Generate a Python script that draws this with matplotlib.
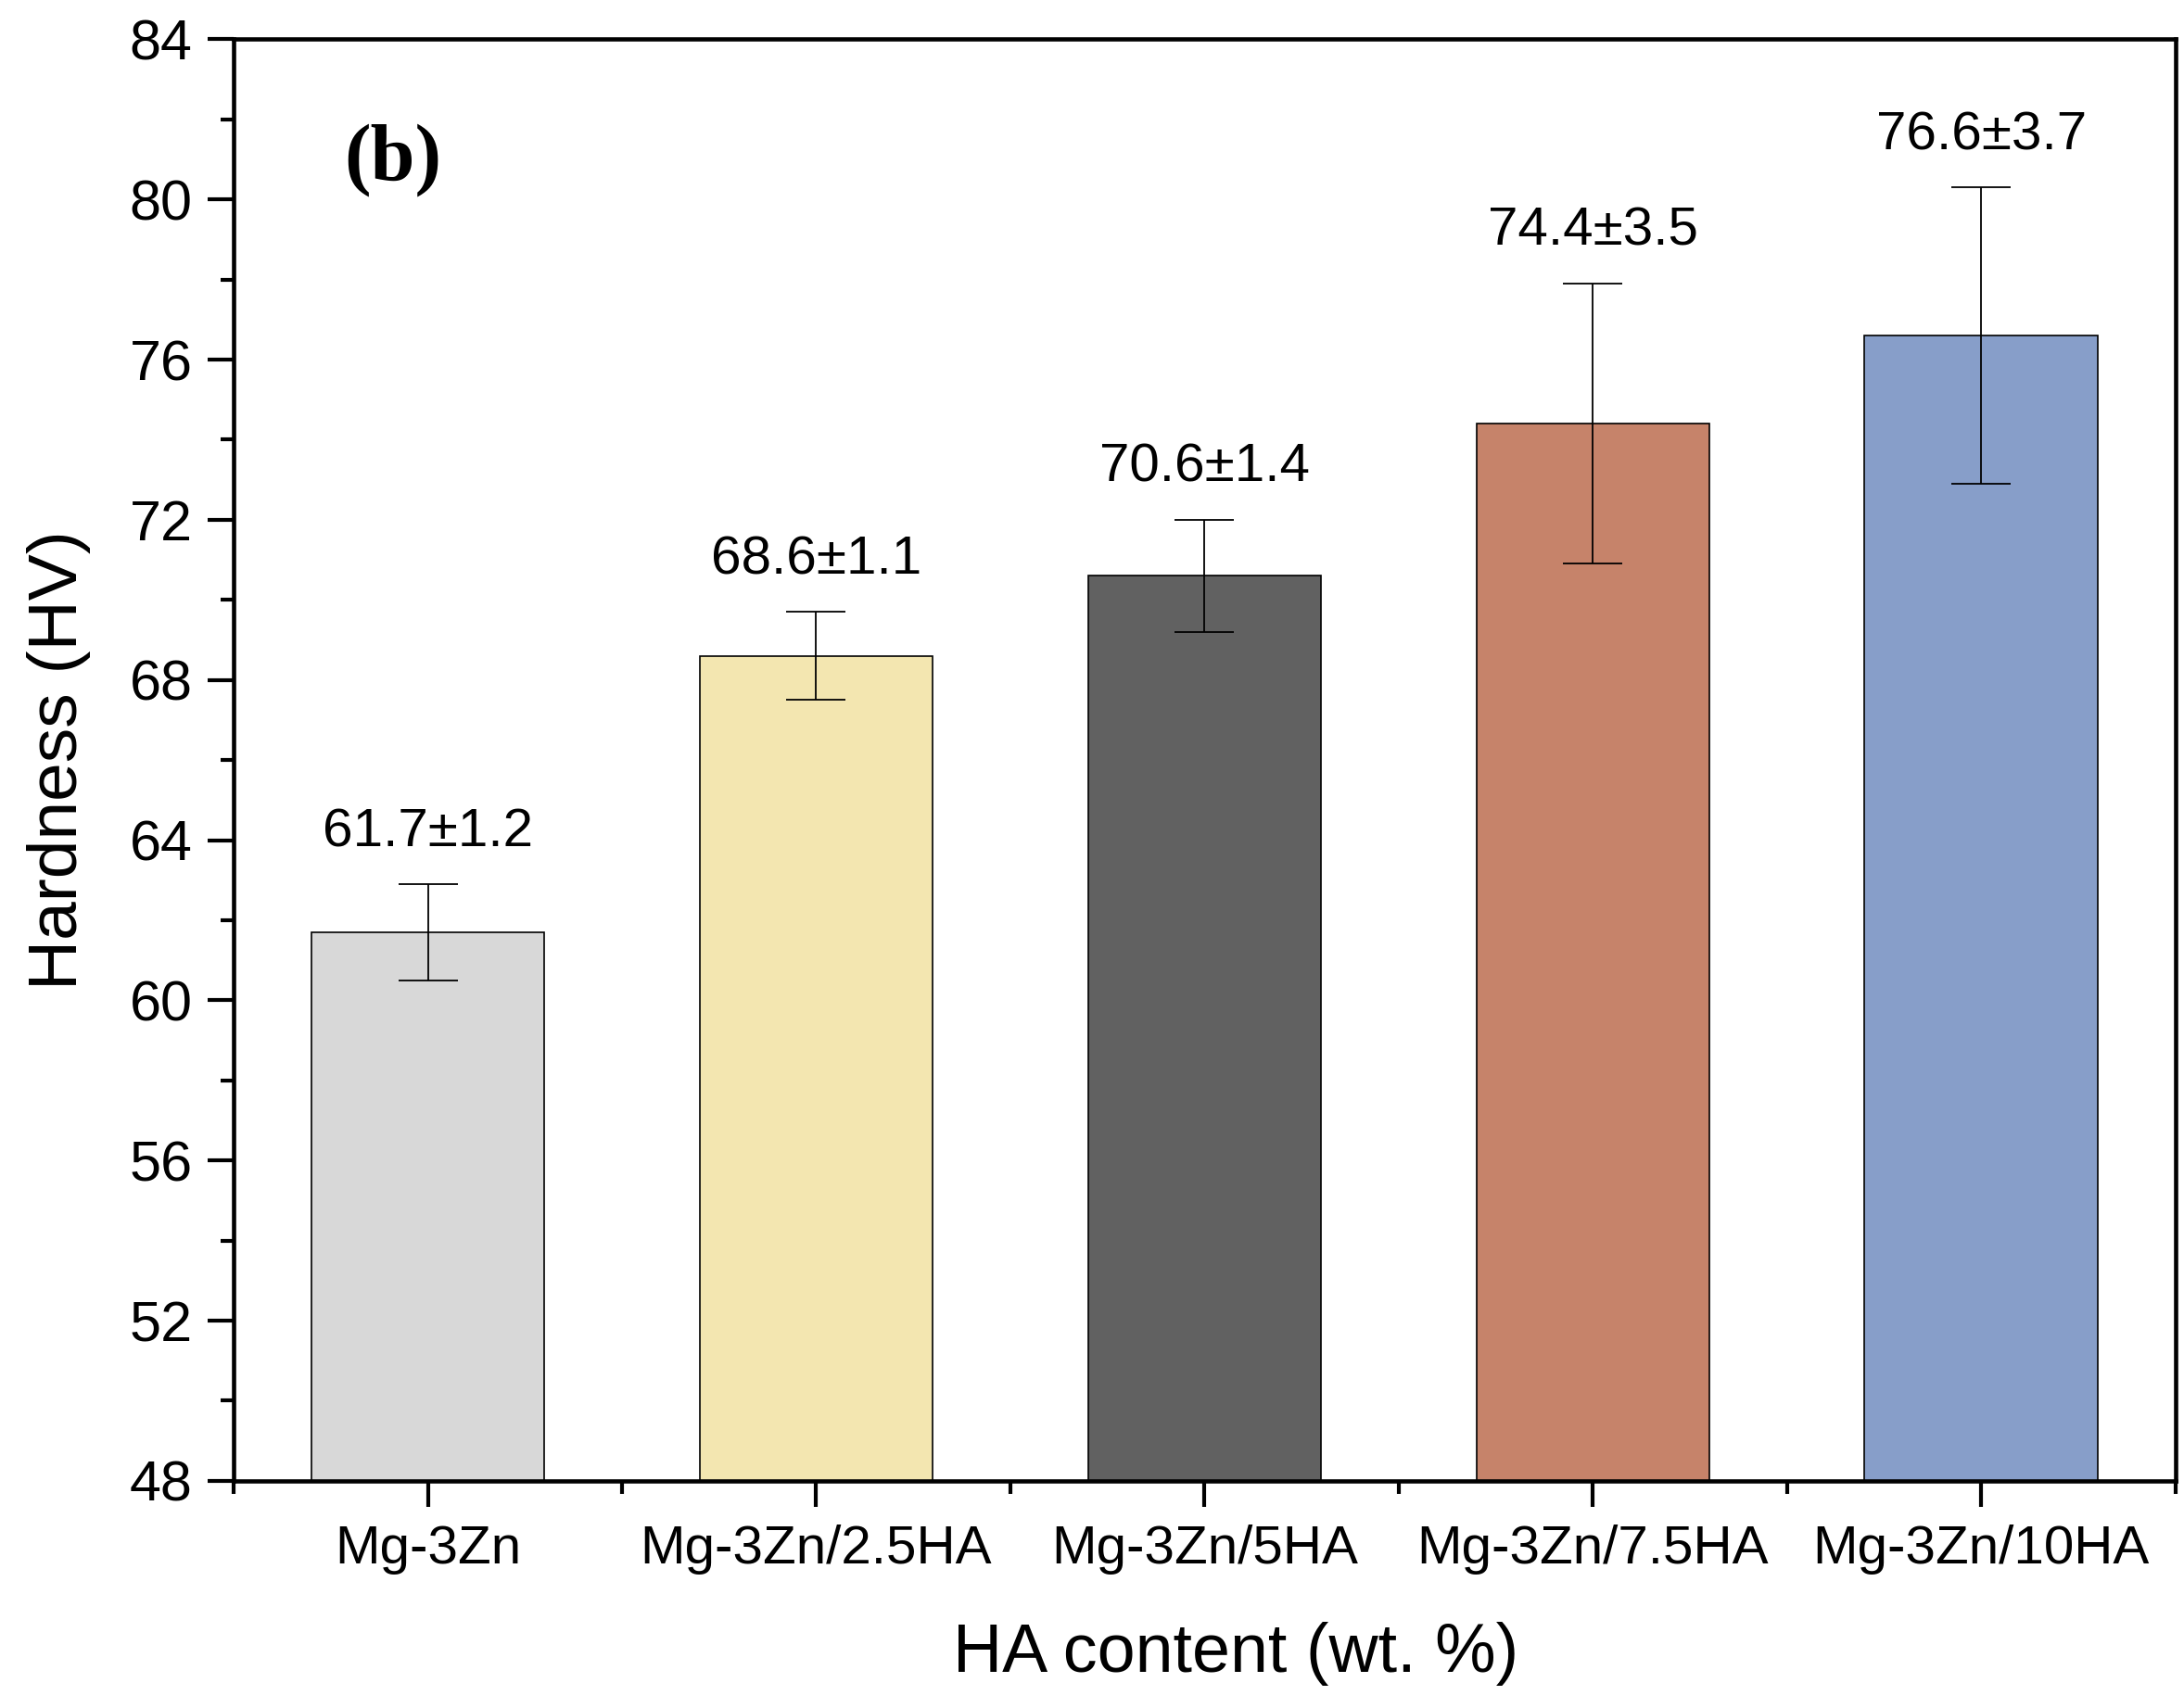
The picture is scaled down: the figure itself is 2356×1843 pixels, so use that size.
import matplotlib.pyplot as plt
from matplotlib.ticker import MultipleLocator, FixedLocator

# sample data
samples = ['Mg-3Zn', 'Mg-3Zn/2.5HA', 'Mg-3Zn/5HA', 'Mg-3Zn/7.5HA', 'Mg-3Zn/10HA']
hardness = [61.7, 68.6, 70.6, 74.4, 76.6]
errors = [1.2, 1.1, 1.4, 3.5, 3.7]
colors = ['#d8d8d8', '#f3e6b0', '#616161', '#c6836a', '#879ec9']

plt.rcParams['font.family'] = ['Liberation Sans', 'DejaVu Sans']

fig = plt.figure(figsize=(23.56, 18.43), dpi=100)
ax = fig.add_axes([0.107, 0.133, 0.889, 0.844])

pos = list(range(1, len(samples) + 1))
ax.bar(pos, hardness, width=0.6, color=colors, edgecolor='black', linewidth=1.2, zorder=2)
ax.errorbar(pos, hardness, yerr=errors, fmt='none', ecolor='black', elinewidth=1.3,
            capsize=23, capthick=1.3, zorder=3)

for x, v, e in zip(pos, hardness, errors):
    ax.text(x, v + e + 0.95, '%.1f\u00b1%.1f' % (v, e), ha='center', va='baseline', fontsize=42)

ax.set_xlim(0.5, 5.5)
ax.set_ylim(48, 84)
ax.set_xticks(pos)
ax.set_xticklabels(samples)
ax.xaxis.set_minor_locator(FixedLocator([0.5, 1.5, 2.5, 3.5, 4.5, 5.5]))
ax.yaxis.set_major_locator(MultipleLocator(4))
ax.yaxis.set_minor_locator(MultipleLocator(2))

ax.tick_params(axis='both', which='major', direction='out', length=20, width=3,
               labelsize=42, pad=14)
ax.tick_params(axis='both', which='minor', direction='out', length=10, width=3)
ax.tick_params(axis='y', labelsize=44, pad=12)
for s in ax.spines.values():
    s.set_linewidth(3.3)

ax.set_xlabel('HA content (wt. %)', fontsize=53)
ax.set_ylabel('Hardness (HV)', fontsize=54)
ax.xaxis.set_label_coords(0.516, -0.12)
ax.yaxis.set_label_coords(-0.09, 0.5)
ax.xaxis.label.set_va('center')
ax.yaxis.label.set_va('center')

ax.text(0.082, 0.916, '(b)', transform=ax.transAxes, ha='center', va='center',
        fontsize=62, fontweight='bold', family=['Liberation Serif', 'DejaVu Serif'])

fig.savefig('out.png', dpi=100)
